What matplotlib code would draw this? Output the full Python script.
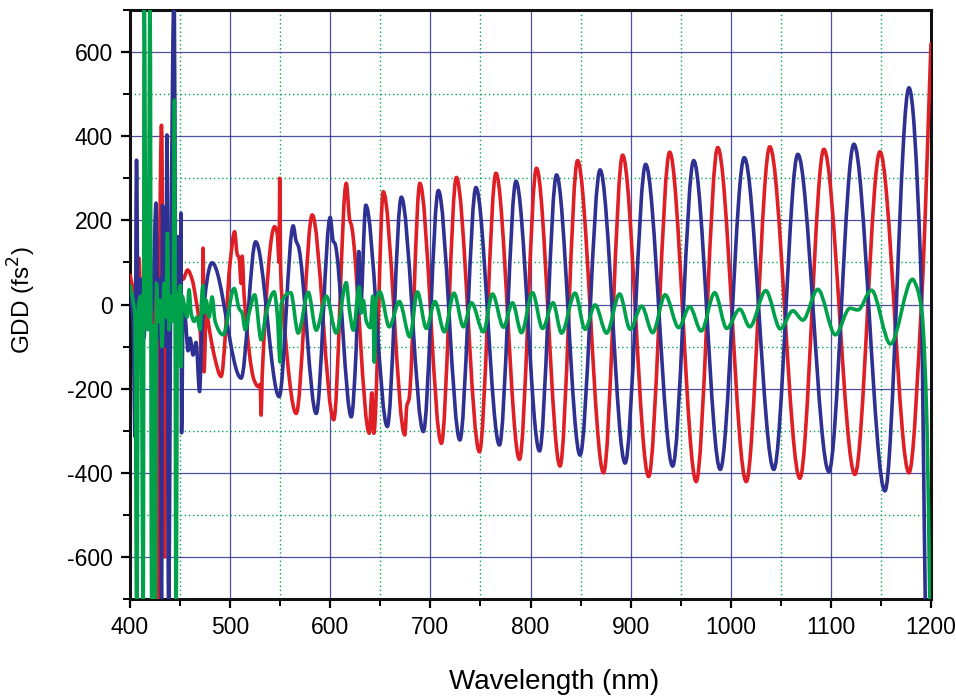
import matplotlib
matplotlib.use("Agg")
import matplotlib.pyplot as plt
from matplotlib.ticker import MultipleLocator
from matplotlib.path import Path
from matplotlib.patches import PathPatch

plt.rcParams['font.family'] = ['Liberation Sans', 'DejaVu Sans']
plt.rcParams['axes.unicode_minus'] = False

# ---- data (wavelength nm, GDD fs^2) ----
red_x = [400, 403, 406, 409, 411, 414, 417, 420, 423, 426, 428, 429.5, 431.5, 433, 434.5,
         436, 438, 441, 444, 447, 449, 451, 453, 457.5, 462, 466, 470, 472, 473, 474, 476,
         480, 484, 491, 500, 504.5, 507, 509, 511, 512, 514, 524, 528, 530, 531, 532,
         544.5, 547, 549, 549.5, 550.5, 553, 566, 582, 603.5, 616, 619.5, 621, 639, 641.5,
         643.5, 653, 674.5, 676.5, 678.5, 689.5, 711, 726, 749, 765.5, 789, 806, 829.5,
         847, 873, 892, 918, 939, 965.5, 987, 1015.5, 1039, 1069, 1093, 1124, 1149, 1178,
         1191, 1200]
red_y = [70, 40, 20, 110, -20, 30, -40, 60, -80, 40, -750, 80, 426, 0, -600,
         100, -50, 40, -30, 100, -90, 70, 60, 82, 60, 10, -60, -150, 134, -160, -20,
         -70, -120, -171, 100, 173, 120, 110, 50, 115, 20, -180, -195, -190, -263, -170,
         185, 170, 100, 300, 80, -20, -259, 213, -274, 288, 200, 190, -306, -210,
         -306, 268, -310, -240, -227, 288, -330, 302, -350, 312, -368, 324, -384,
         342, -400, 355, -409, 362, -421, 373, -421, 375, -413, 369, -404, 363, -400,
         27, 620]

blue_x = [400, 403, 405, 406.5, 408, 411, 414, 417, 420, 423, 426, 428, 430, 431.5, 432.5,
          434, 436, 437, 438.5, 441, 444, 446, 448, 450, 451, 451.5, 453, 455, 458, 460,
          463, 466, 469.5, 472, 482, 511, 525.5, 549, 563, 566, 568, 586, 600, 603, 604.5,
          621, 626, 628.5, 630, 635.5, 657, 671, 693, 708, 729.5, 745.5, 769, 785.5, 809,
          826, 849.5, 869.5, 894.5, 915, 942, 963, 989.5, 1013.5, 1043, 1067, 1098, 1123,
          1154, 1178, 1189.5, 1194.5]
blue_y = [20, -30, -314, 343, -20, 60, -80, 110, -60, 30, 241, -80, 60, -750, 235,
          -100, 50, 403, -750, 150, 750, -100, 161, -50, 217, -305, -20, -30, -110, -80,
          -120, -90, -207, -50, 99, -175, 149, -219, 187, 150, 140, -259, 207, 150, 146,
          -267, -100, 126, -20, 236, -290, 255, -302, 271, -322, 278, -334, 293, -348,
          308, -358, 320, -377, 333, -384, 342, -392, 349, -392, 357, -397, 381,
          -443, 515, 106, -750]

green_x = [400, 403, 405, 406.7, 408.5, 411, 413.2, 414.2, 416, 418, 420, 421.7, 423, 425,
           426.5, 428, 430, 432, 434, 436, 437.4, 439, 441, 443, 444.4, 446, 447.5, 449,
           450.5, 451, 452, 455, 457, 459, 461, 464, 467, 470, 472, 473, 474, 476, 479,
           482, 485, 493, 504, 509, 512, 515, 519, 524.5, 531, 536, 544, 547, 550, 551,
           560.5, 568, 578, 586, 596, 606, 616, 619, 623, 629, 631, 633, 636, 640, 642.5,
           644, 645.5, 649.5, 659, 669, 679.5, 687, 696, 704.5, 714, 723.5, 733, 741, 753,
           762, 773, 782, 791, 802, 812, 822.5, 831, 844.5, 854.5, 864.5, 876, 889, 899.5,
           911, 922, 934.5, 948, 959, 970.5, 984, 996, 1009, 1019, 1035, 1049.5, 1062,
           1072, 1087, 1104.5, 1119, 1127, 1140.5, 1159.5, 1181.5, 1186, 1191, 1196, 1199]
green_y = [45, 10, -30, -750, 0, 20, -750, 750, 0, -60, 750, -750, -50, -750,
           50, -40, 10, -100, 50, -30, 169, -60, 20, -40, 486, -750, 0, 30,
           45, -148, 20, -10, -30, 35, -20, -40, -30, -60, 30, 45, -20, 10, -30,
           18, -40, -72, 38, -10, -20, -60, -20, 23, -84, -20, 30, -20, -137, 0,
           28, -68, 29, -61, 20, -68, 52, -10, -61, 42, -20, 10, -40, -55, 20,
           -137, 0, 30, -53, 7, -77, 30, -57, 7, -65, 27, -53, 4, -65,
           25, -54, 4, -67, 28, -57, 4, -68, 27, -59, -1, -68, 25, -59,
           -4, -67, 23, -55, -5, -63, 28, -57, -11, -53, 33, -58, -15,
           -37, 36, -72, -9, -13, 34, -94, 60, 40, -20, -290, -750]

x_ticks = [400, 500, 600, 700, 800, 900, 1000, 1100, 1200]
y_ticks = [-600, -400, -200, 0, 200, 400, 600]


def smooth_path(xs, ys):
    """Monotone cubic (PCHIP-style) Bezier path through the read points,
    flat at every turning point; matplotlib renders the curves."""
    n = len(xs)
    h = [xs[i + 1] - xs[i] for i in range(n - 1)]
    d = [(ys[i + 1] - ys[i]) / h[i] for i in range(n - 1)]
    m = [0.0] * n
    m[0], m[-1] = d[0], d[-1]
    for k in range(1, n - 1):
        if d[k - 1] * d[k] <= 0:
            m[k] = 0.0
        else:
            w1 = 2 * h[k] + h[k - 1]
            w2 = h[k] + 2 * h[k - 1]
            m[k] = (w1 + w2) / (w1 / d[k - 1] + w2 / d[k])
    verts = [(xs[0], ys[0])]
    codes = [Path.MOVETO]
    for k in range(n - 1):
        t = h[k] / 3.0
        verts += [(xs[k] + t, ys[k] + m[k] * t),
                  (xs[k + 1] - t, ys[k + 1] - m[k + 1] * t),
                  (xs[k + 1], ys[k + 1])]
        codes += [Path.CURVE4] * 3
    return Path(verts, codes)


# ---- figure ----
fig = plt.figure(figsize=(9.56, 6.99), dpi=100)
ax = fig.add_axes([130 / 956, 100 / 699, 801 / 956, 589 / 699])

for xs, ys, col, z in [(red_x, red_y, '#DE1F26', 3),
                       (blue_x, blue_y, '#2E3192', 4),
                       (green_x, green_y, '#00A14B', 5)]:
    ax.add_patch(PathPatch(smooth_path(xs, ys), fill=False, edgecolor=col,
                           lw=2.6, zorder=z, joinstyle='round', capstyle='round'))

ax.set_xlim(400, 1200)
ax.set_ylim(-700, 700)
ax.set_xticks(x_ticks)
ax.set_yticks(y_ticks)
ax.xaxis.set_minor_locator(MultipleLocator(50))
ax.yaxis.set_minor_locator(MultipleLocator(100))

ax.grid(which='major', color='#2E3192', lw=0.9, alpha=0.85, zorder=1)
ax.grid(which='minor', color='#00A651', lw=1.0, linestyle=(0, (1, 2)), zorder=1)
ax.set_axisbelow(True)

for s in ax.spines.values():
    s.set_linewidth(2.2)
    s.set_color('#111111')

ax.tick_params(which='major', direction='out', length=6.5, width=1.6, labelsize=16.5,
               pad=6, top=False, right=False)
ax.tick_params(which='minor', direction='out', length=5, width=1.4, top=False, right=False)

ax.set_xlabel('Wavelength (nm)', fontsize=20)
ax.set_ylabel('GDD (fs$^2$)', fontsize=17.5)
ax.xaxis.set_label_coords(0.529, -0.118)
ax.yaxis.set_label_coords(-0.135, 0.508)
ax.xaxis.label.set_va('top')
ax.yaxis.label.set_va('center')

fig.savefig('out.png', dpi=100)
